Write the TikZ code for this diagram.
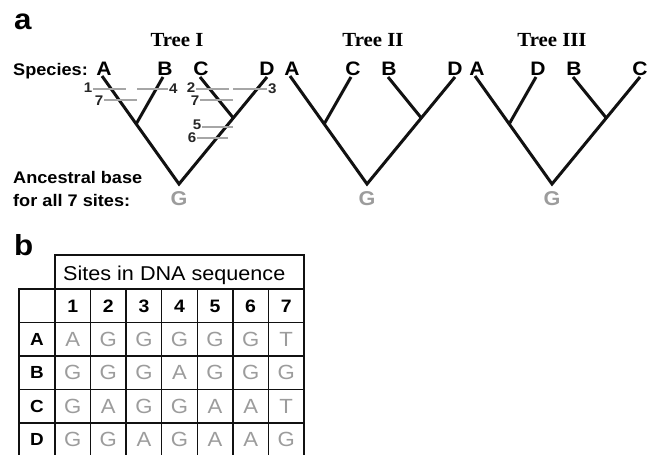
\documentclass[tikz,border=0pt]{standalone}
\usepackage{fontspec}
\setmainfont{Liberation Sans}[FakeStretch=1.08]
\newfontfamily\titlefont{Liberation Serif}[FakeStretch=1.04]
\usetikzlibrary{calc}
\definecolor{basegray}{HTML}{9C9C9C}
\definecolor{mutgray}{HTML}{A6A6A6}
\definecolor{ink}{HTML}{111111}
\begin{document}
\begin{tikzpicture}[x=1pt,y=-1pt,
  every node/.style={inner sep=0pt},
  panel/.style={font=\fontsize{29}{31}\selectfont\bfseries, anchor=base west},
  treetitle/.style={font=\titlefont\fontsize{20}{22}\selectfont\bfseries, anchor=base},
  sp/.style={font=\fontsize{19.5}{21}\selectfont\bfseries, anchor=base},
  lbl/.style={font=\fontsize{16.8}{19}\selectfont\bfseries, anchor=base west},
  anc/.style={font=\fontsize{20}{22}\selectfont\bfseries, text=basegray},
  branch/.style={line width=3pt, draw=ink, line cap=butt, line join=miter},
  mut/.style={line width=2.3pt, draw=mutgray},
  num/.style={font=\fontsize{14}{15}\selectfont\bfseries, text=black!85},
  tabthick/.style={line width=2pt, draw=ink},
  tabthin/.style={line width=1.3pt, draw=ink},
  sites/.style={font=\fontsize{20}{22}\selectfont, anchor=base west},
  colnum/.style={font=\fontsize{18}{20}\selectfont\bfseries},
  rowlab/.style={font=\fontsize{17.5}{19}\selectfont\bfseries},
  cell/.style={font=\fontsize{20.5}{22}\selectfont, text=basegray}
]
\useasboundingbox (0,0) rectangle (656,455);

% ---------- panel a ----------
\node[panel] (pa) at (14,29) {a};
\node[lbl] (species) at (13,75) {Species:};
\node[lbl] (anc1) at (13,183) {Ancestral base};
\node[lbl] (anc2) at (13,206) {for all 7 sites:};

\foreach \k/\dx/\la/\lb/\lc/\ld/\ttl/\tx in {1/0/A/B/C/D/Tree I/177, 2/188/A/C/B/D/Tree II/373, 3/373/A/D/B/C/Tree III/552} {
  \node[treetitle] (title\k) at (\tx,46) {\ttl};
  \node[sp] (sp\k-1) at (104+\dx,75) {\la};
  \node[sp] (sp\k-2) at (165+\dx,75) {\lb};
  \node[sp] (sp\k-3) at (201+\dx,75) {\lc};
  \node[sp] (sp\k-4) at (267+\dx,75) {\ld};
  \coordinate (tip\k-1) at (102+\dx,76);
  \coordinate (tip\k-2) at (163+\dx,77);
  \coordinate (tip\k-3) at (200+\dx,77);
  \coordinate (tip\k-4) at (267+\dx,77);
  \coordinate (root\k) at (179+\dx,184);
  \coordinate (jl\k) at ($(tip\k-1)!0.444!(root\k)$);
  \coordinate (jr\k) at ($(tip\k-4)!0.383!(root\k)$);
  \draw[branch] (tip\k-1) -- (root\k) -- (tip\k-4);
  \draw[branch] (tip\k-2) -- (jl\k);
  \draw[branch] (tip\k-3) -- (jr\k);
  \node[anc] (G\k) at (179+\dx,199) {G};
}

% mutation marks on Tree I
\coordinate (m1s) at (93,89);   \coordinate (m1e) at (126,89);
\coordinate (m4s) at (137,89);  \coordinate (m4e) at (168,89);
\coordinate (m7s) at (104,100); \coordinate (m7e) at (137,100);
\coordinate (m2s) at (196,89);  \coordinate (m2e) at (229,89);
\coordinate (m3s) at (233,89);  \coordinate (m3e) at (267,89);
\coordinate (m7bs) at (200,100);\coordinate (m7be) at (233,100);
\coordinate (m5s) at (202,127); \coordinate (m5e) at (233,127);
\coordinate (m6s) at (197,138); \coordinate (m6e) at (228,138);
\foreach \a/\b in {m1s/m1e, m4s/m4e, m7s/m7e, m2s/m2e, m3s/m3e, m7bs/m7be, m5s/m5e, m6s/m6e}
  \draw[mut] (\a) -- (\b);
\node[num, anchor=east] (n1) at (92.5,88) {1};
\node[num, anchor=west] (n4) at (169,89) {4};
\node[num, anchor=east] (n7) at (103.5,100.5) {7};
\node[num, anchor=east] (n2) at (195.5,87.5) {2};
\node[num, anchor=west] (n3) at (268,89) {3};
\node[num, anchor=east] (n7b) at (199.5,100.5) {7};
\node[num, anchor=east] (n5) at (201.5,125) {5};
\node[num, anchor=east] (n6) at (196.5,137.5) {6};

% ---------- panel b ----------
\node[panel] (pb) at (14,255) {b};
\draw[tabthick] (55,289) -- (55,255) -- (304,255) -- (304,455);
\draw[tabthick] (19,455) -- (19,289) -- (304,289);
\foreach \k in {0,...,6} \draw[tabthin] ({55+\k*35.57},289) -- ({55+\k*35.57},455);
\foreach \r in {1,...,4} \draw[tabthin] (19,{289+\r*33.5}) -- (304,{289+\r*33.5});
\node[sites] (sitesl) at (63,280) {Sites in DNA sequence};
\foreach \k in {1,...,7} \node[colnum] (col\k) at ({55+(\k-0.5)*35.57},306) {\k};

\foreach \r/\lab/\s in {1/A/{A,G,G,G,G,G,T}, 2/B/{G,G,G,A,G,G,G}, 3/C/{G,A,G,G,A,A,T}, 4/D/{G,G,A,G,A,A,G}} {
  \node[rowlab] (row\lab) at (37,{289+(\r+0.5)*33.5}) {\lab};
  \foreach \b [count=\k] in \s {
    \node[cell] (cell\lab\k) at ({55+(\k-0.5)*35.57},{289+(\r+0.5)*33.5}) {\b};
  }
}
\end{tikzpicture}
\end{document}
